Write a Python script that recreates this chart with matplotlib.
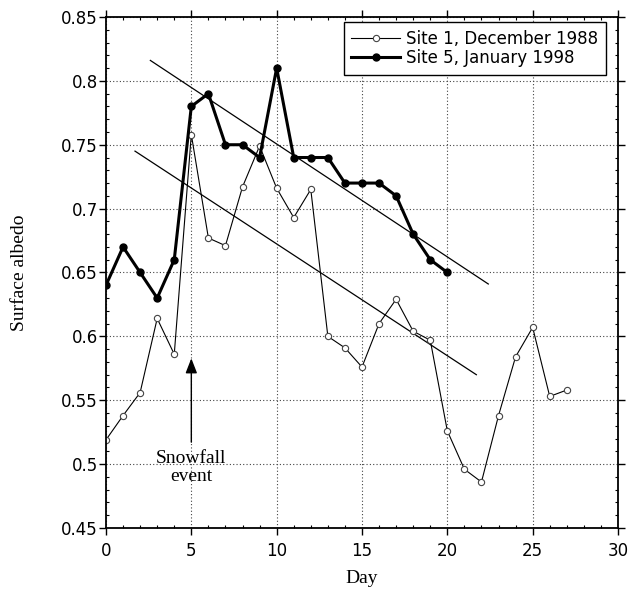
import matplotlib
matplotlib.use("Agg")
import matplotlib.pyplot as plt
from matplotlib.ticker import MultipleLocator

days_site1 = list(range(28))
albedo_site1 = [0.519, 0.538, 0.556, 0.614, 0.586, 0.758, 0.677, 0.671, 0.717, 0.749,
                0.716, 0.693, 0.715, 0.600, 0.591, 0.576, 0.610, 0.629, 0.604, 0.597,
                0.526, 0.496, 0.486, 0.538, 0.584, 0.607, 0.553, 0.558]
days_site5 = list(range(21))
albedo_site5 = [0.64, 0.67, 0.65, 0.63, 0.66, 0.78, 0.79, 0.75, 0.75, 0.74,
                0.81, 0.74, 0.74, 0.74, 0.72, 0.72, 0.72, 0.71, 0.68, 0.66, 0.65]
trend_upper_x = [2.6, 22.4]
trend_upper_y = [0.816, 0.641]
trend_lower_x = [1.7, 21.7]
trend_lower_y = [0.745, 0.570]
label_site1 = "Site 1, December 1988"
label_site5 = "Site 5, January 1998"
xticks = [0, 5, 10, 15, 20, 25, 30]
yticks = [0.45, 0.5, 0.55, 0.6, 0.65, 0.7, 0.75, 0.8, 0.85]
ytick_labels = ["0.45", "0.5", "0.55", "0.6", "0.65", "0.7", "0.75", "0.8", "0.85"]

fig = plt.figure(figsize=(6.29, 6.0), dpi=100)
ax = fig.add_axes([0.1685, 0.12, 0.814, 0.8517])

sans = ["DejaVu Sans"]
serif = ["Liberation Serif", "DejaVu Serif"]

ax.plot(trend_upper_x, trend_upper_y, color="black", lw=0.9)
ax.plot(trend_lower_x, trend_lower_y, color="black", lw=0.9)

ax.plot(days_site1, albedo_site1, color="black", lw=0.8, marker="o", ms=4.5,
        mfc="white", mec="#444444", mew=0.8, label=label_site1)
ax.plot(days_site5, albedo_site5, color="black", lw=2.2, marker="o", ms=5,
        mfc="black", mec="black", label=label_site5)

ax.annotate("", xy=(5, 0.585), xytext=(5, 0.515),
            arrowprops=dict(arrowstyle="-|>,head_length=0.9,head_width=0.35",
                            color="black", lw=1.0))
ax.text(5, 0.4975, "Snowfall\nevent", ha="center", va="center",
        fontsize=14, family=serif, linespacing=1.1)

ax.set_xlim(0, 30)
ax.set_ylim(0.45, 0.85)
ax.set_xticks(xticks)
ax.set_yticks(yticks)
ax.set_yticklabels(ytick_labels)
ax.xaxis.set_minor_locator(MultipleLocator(1))
ax.yaxis.set_minor_locator(MultipleLocator(0.01))
ax.tick_params(which="major", direction="out", length=5, width=1,
               top=True, right=True, labelsize=12)
ax.tick_params(axis="y", which="major", pad=1)
ax.tick_params(axis="x", which="major", pad=5)
ax.tick_params(which="minor", direction="in", length=2.5, width=0.8,
               top=True, right=True)
for lab in ax.get_xticklabels() + ax.get_yticklabels():
    lab.set_family(sans)
ax.grid(True, which="major", linestyle=(0, (1, 2)), color="#444444", lw=0.8)
for s in ax.spines.values():
    s.set_linewidth(1.3)

ax.set_xlabel("Day", fontsize=14, family=serif)
ax.set_ylabel("Surface albedo", fontsize=14, family=serif)
ax.xaxis.set_label_coords(0.5, -0.082)
ax.yaxis.set_label_coords(-0.152, 0.5)

leg = ax.legend(loc="upper right", bbox_to_anchor=(0.9766, 0.990), borderaxespad=0,
                fancybox=False, edgecolor="black", framealpha=1,
                prop={"family": sans, "size": 12},
                handlelength=2.9, borderpad=0.45, labelspacing=0.1, handletextpad=0.4)
leg.get_frame().set_linewidth(1.0)

fig.savefig("out.png", dpi=100)
